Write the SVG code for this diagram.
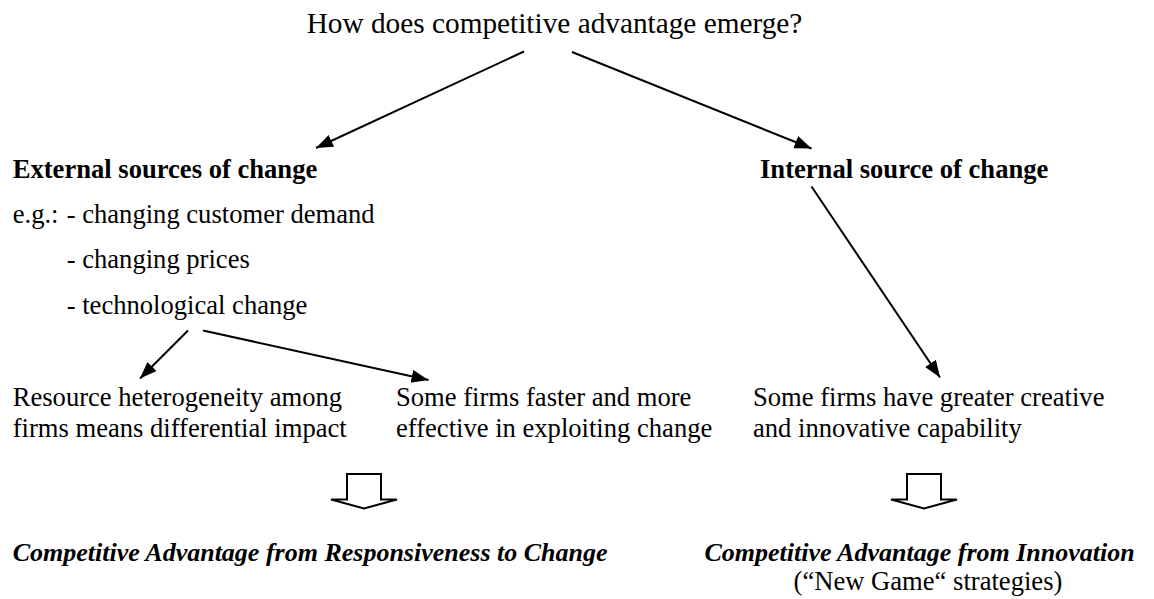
<svg xmlns="http://www.w3.org/2000/svg" width="1154" height="599" viewBox="0 0 1154 599">
  <style>
    text { font-family: "Liberation Serif", "Times New Roman", serif; fill: #000; }
    .title { font-size: 29.3px; }
    .body { font-size: 26.6px; }
    .bold { font-size: 26.6px; font-weight: bold; }
    .bi { font-size: 26px; font-weight: bold; font-style: italic; }
    .conn { stroke: #000; stroke-width: 2; fill: none; marker-end: url(#ah); }
    .block { stroke: #000; stroke-width: 2; fill: #fff; stroke-linejoin: miter; }
  </style>
  <defs>
    <marker id="ah" markerUnits="userSpaceOnUse" markerWidth="18" markerHeight="14" refX="17" refY="6.5" orient="auto">
      <path d="M0,0 L17,6.5 L0,13 Z" fill="#000"/>
    </marker>
  </defs>
  <rect width="1154" height="599" fill="#fff"/>

  <g id="title">
    <text class="title" x="306.7" y="33">How does competitive advantage emerge?</text>
  </g>

  <g id="external">
    <text class="bold" x="12.7" y="177.5">External sources of change</text>
    <text class="body" y="222.7"><tspan x="12.7">e.g.:</tspan><tspan x="66.7">- changing customer demand</tspan></text>
    <text class="body" x="66.7" y="268">- changing prices</text>
    <text class="body" x="66.7" y="314">- technological change</text>
  </g>

  <g id="internal">
    <text class="bold" x="760" y="177.5">Internal source of change</text>
  </g>

  <g id="resource">
    <text class="body" x="12.7" y="406">Resource heterogeneity among</text>
    <text class="body" x="12.7" y="436.7">firms means differential impact</text>
  </g>

  <g id="faster">
    <text class="body" x="396" y="406">Some firms faster and more</text>
    <text class="body" x="396" y="436.7">effective in exploiting change</text>
  </g>

  <g id="creative">
    <text class="body" x="753" y="406">Some firms have greater creative</text>
    <text class="body" x="753" y="436.7">and innovative capability</text>
  </g>

  <g id="responsiveness">
    <text class="bi" x="12.7" y="561">Competitive Advantage from Responsiveness to Change</text>
  </g>

  <g id="innovation">
    <text class="bi" x="704.5" y="561">Competitive Advantage from Innovation</text>
    <text class="body" x="793.6" y="590">(“New Game“ strategies)</text>
  </g>

  <g id="connectors">
    <line class="conn" x1="524" y1="51.5" x2="316" y2="148"/>
    <line class="conn" x1="572" y1="52" x2="811.5" y2="148.5"/>
    <line class="conn" x1="811.5" y1="186.5" x2="940" y2="377.5"/>
    <line class="conn" x1="188" y1="330.5" x2="140" y2="378.5"/>
    <line class="conn" x1="203" y1="330.5" x2="428.5" y2="380"/>
    <path class="block" d="M347,474 H381 V499.5 H397 L364,508.5 L331,499.5 H347 Z"/>
    <path class="block" d="M907,474 H941 V499.5 H957 L924,508.5 L891,499.5 H907 Z"/>
  </g>
</svg>
